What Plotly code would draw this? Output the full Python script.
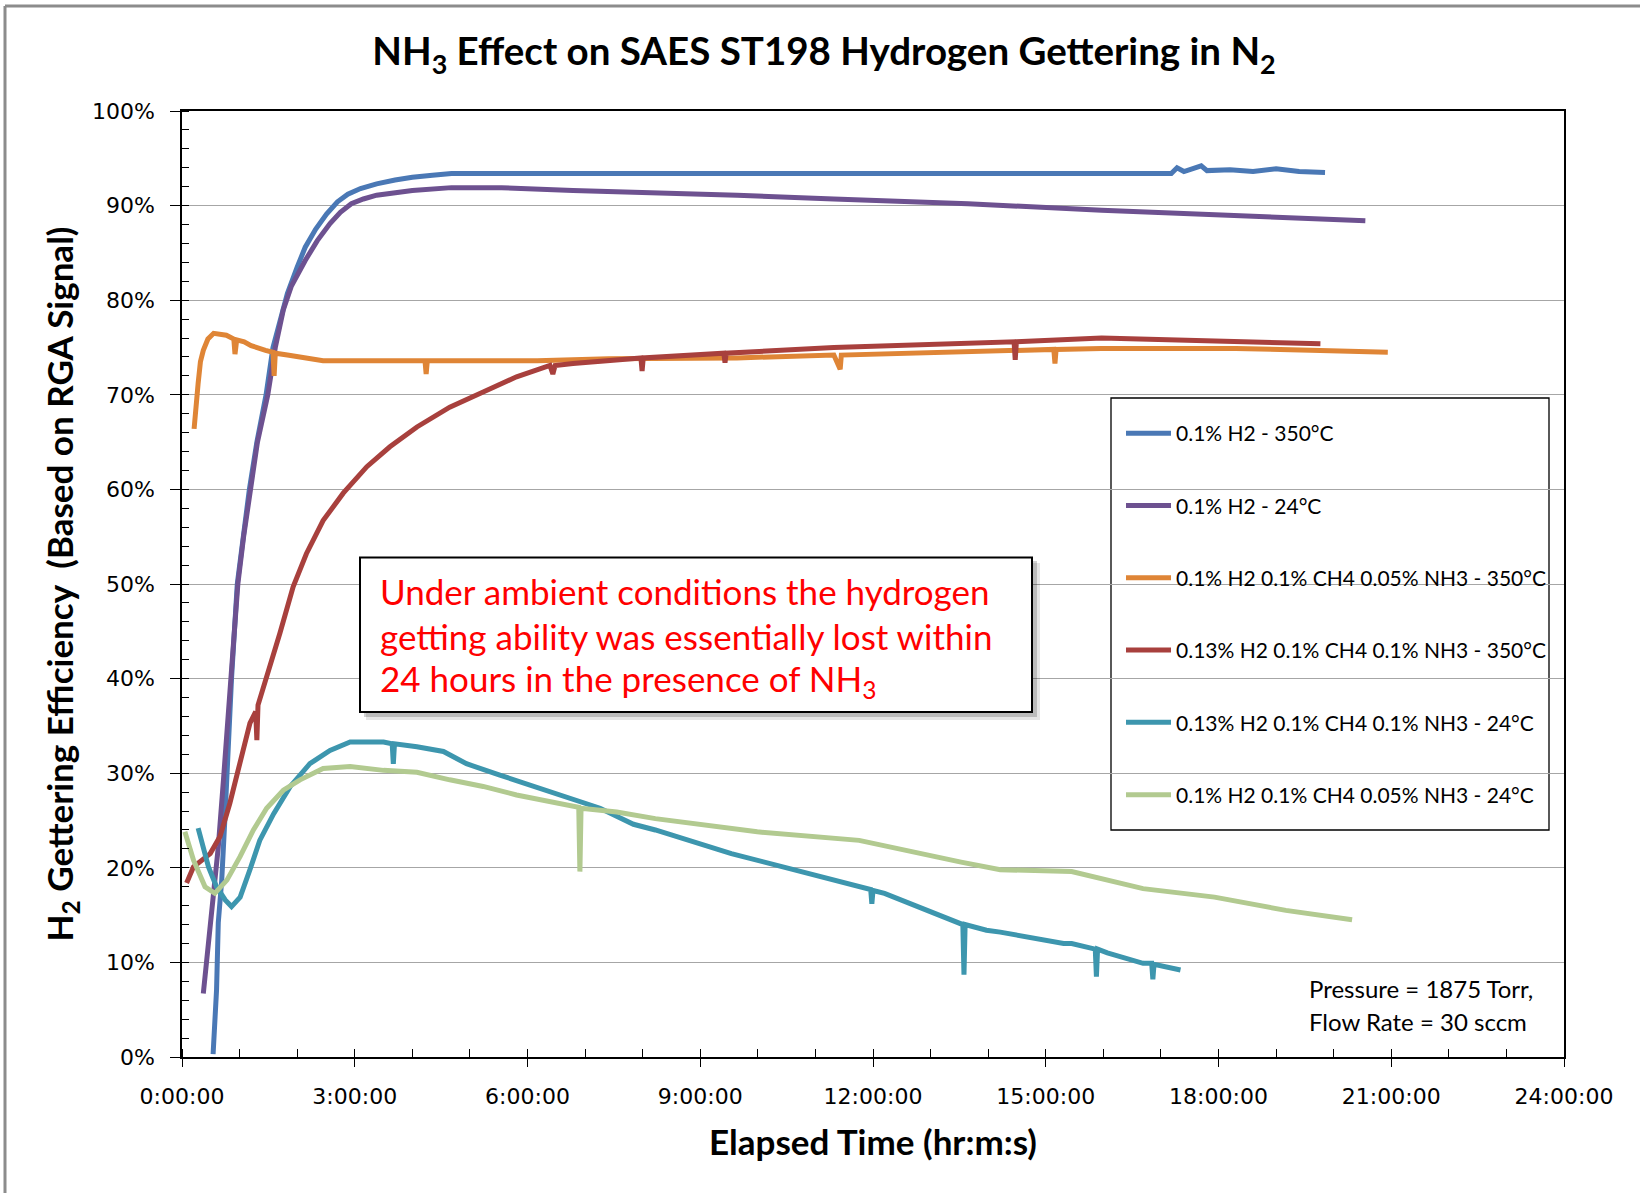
import plotly.graph_objects as go

# ---------------- data (hours, % efficiency) ----------------
series_names = [
    "0.1% H2 - 350°C",
    "0.1% H2 - 24°C",
    "0.1% H2 0.1% CH4 0.05% NH3 - 350°C",
    "0.13% H2 0.1% CH4 0.1% NH3 - 350°C",
    "0.13% H2 0.1% CH4 0.1% NH3 - 24°C",
    "0.1% H2 0.1% CH4 0.05% NH3 - 24°C",
]
series_colors = ["#4A78B5", "#6D5190", "#DF8536", "#A8403D", "#3D96AE", "#B2CA90"]

blue_h = [0.54, 0.60, 0.63, 0.69, 0.75, 0.83, 0.86, 0.96, 1.06, 1.17, 1.30, 1.46, 1.58, 1.70, 1.83, 2.00,
          2.14, 2.32, 2.51, 2.70, 2.88, 3.10, 3.38, 3.70, 4.00, 4.35, 4.68, 17.18, 17.28, 17.40, 17.70,
          17.80, 18.20, 18.60, 19.00, 19.40, 19.85]
blue_v = [0.3, 7.1, 14.2, 18.7, 25.8, 36.3, 40.0, 50.0, 55.0, 60.0, 65.0, 70.0, 75.0, 78.0, 80.7, 83.5,
          85.6, 87.5, 89.1, 90.4, 91.2, 91.8, 92.3, 92.7, 93.0, 93.2, 93.4, 93.4, 94.0, 93.6, 94.2,
          93.7, 93.8, 93.6, 93.9, 93.6, 93.5]

purple_h = [0.37, 0.46, 0.54, 0.63, 0.72, 0.80, 0.86, 0.97, 1.07, 1.18, 1.31, 1.49, 1.62, 1.76, 1.90,
            2.14, 2.35, 2.57, 2.75, 2.94, 3.15, 3.38, 3.70, 4.00, 4.68, 5.55, 6.79, 8.03, 9.00, 9.64,
            11.32, 13.65, 15.97, 18.30, 19.50, 20.55]
purple_v = [6.7, 12.4, 17.3, 22.2, 29.3, 36.3, 39.8, 50.0, 55.0, 60.0, 65.0, 70.0, 75.0, 79.0, 81.5,
            84.2, 86.3, 88.1, 89.3, 90.2, 90.7, 91.1, 91.4, 91.6, 91.9, 91.9, 91.6, 91.4, 91.25, 91.1,
            90.7, 90.2, 89.5, 89.0, 88.7, 88.4]

orange_h = [0.21, 0.24, 0.28, 0.32, 0.37, 0.45, 0.55, 0.77, 0.90, 0.92, 0.95, 1.08, 1.20, 1.45, 1.58,
            1.60, 1.62, 1.83, 2.10, 2.45, 3.00, 3.69, 4.22, 4.24, 4.26, 4.93, 6.17, 7.41, 8.65, 9.64,
            11.32, 11.43, 11.45, 13.65, 15.14, 15.16, 15.18, 15.97, 18.30, 19.60, 20.94]
orange_v = [66.4, 69.0, 71.2, 73.5, 74.7, 75.9, 76.5, 76.3, 75.9, 74.3, 75.8, 75.6, 75.2, 74.7, 74.5,
            72.0, 74.4, 74.2, 73.9, 73.6, 73.6, 73.6, 73.6, 72.2, 73.6, 73.6, 73.6, 73.8, 73.8, 73.9,
            74.2, 72.7, 74.2, 74.5, 74.8, 73.3, 74.8, 74.9, 74.9, 74.7, 74.5]

red_h = [0.08, 0.20, 0.49, 0.66, 0.83, 1.01, 1.18, 1.28, 1.30, 1.32, 1.44, 1.70, 1.93, 2.16, 2.45,
         2.80, 3.21, 3.61, 4.08, 4.65, 5.23, 5.81, 6.39, 6.44, 6.48, 6.79, 7.97, 7.99, 8.01, 9.00,
         9.41, 9.43, 9.45, 11.32, 13.65, 14.45, 14.47, 14.49, 15.97, 18.30, 19.77]
red_v = [18.4, 20.1, 21.5, 23.3, 26.8, 31.0, 35.3, 36.5, 33.5, 37.2, 39.5, 44.8, 49.7, 53.2, 56.7,
         59.6, 62.4, 64.5, 66.6, 68.7, 70.3, 71.9, 73.1, 72.2, 73.1, 73.3, 73.9, 72.5, 73.9, 74.3,
         74.4, 73.4, 74.4, 75.0, 75.5, 75.6, 73.7, 75.6, 76.0, 75.7, 75.4]

teal_h = [0.28, 0.37, 0.46, 0.60, 0.75, 0.86, 1.01, 1.18, 1.35, 1.59, 1.88, 2.22, 2.57, 2.92, 3.50,
          3.65, 3.67, 3.69, 4.08, 4.54, 4.94, 5.52, 6.10, 6.68, 7.26, 7.84, 8.22, 9.54, 10.87, 11.96,
          11.98, 12.00, 12.20, 13.09, 13.56, 13.58, 13.60, 13.97, 14.21, 15.31, 15.45, 15.86, 15.88,
          15.90, 16.07, 16.69, 16.84, 16.86, 16.88, 17.34]
teal_v = [24.2, 22.2, 20.1, 18.0, 16.6, 15.9, 16.9, 19.8, 22.9, 25.7, 28.6, 31.0, 32.4, 33.3, 33.3,
          33.1, 31.0, 33.1, 32.8, 32.3, 31.0, 29.8, 28.6, 27.5, 26.3, 24.6, 24.0, 21.5, 19.4, 17.7,
          16.2, 17.6, 17.3, 15.2, 14.0, 8.7, 14.0, 13.4, 13.2, 12.0, 12.0, 11.4, 8.5,
          11.4, 11.0, 9.9, 9.9, 8.2, 9.8, 9.2]

green_h = [0.05, 0.20, 0.40, 0.57, 0.78, 1.01, 1.24, 1.47, 1.76, 2.05, 2.45, 2.92, 3.50, 4.08, 4.65,
           5.23, 5.81, 6.39, 6.85, 6.89, 6.91, 6.93, 7.55, 8.22, 9.99, 11.76, 13.53, 14.21, 15.45,
           16.69, 17.93, 19.17, 20.32]
green_v = [23.8, 20.8, 18.0, 17.3, 18.7, 21.2, 24.0, 26.3, 28.2, 29.3, 30.5, 30.7, 30.3, 30.1, 29.3,
           28.6, 27.7, 27.0, 26.4, 26.4, 19.6, 26.3, 25.9, 25.2, 23.8, 22.9, 20.6, 19.8, 19.6,
           17.8, 16.9, 15.5, 14.5]

x_tick_vals = [0, 3, 6, 9, 12, 15, 18, 21, 24]
x_tick_text = ["0:00:00", "3:00:00", "6:00:00", "9:00:00", "12:00:00", "15:00:00",
               "18:00:00", "21:00:00", "24:00:00"]
y_tick_vals = [0, 10, 20, 30, 40, 50, 60, 70, 80, 90, 100]
y_tick_text = [f"{v}%" for v in y_tick_vals]

# ---------------- layout geometry ----------------
W, H = 1640, 1193
L, R, T, B = 182, 1564, 111, 1057


def px(x):
    return (x - L) / (R - L)


def py(y):
    return (B - y) / (B - T)


xs = [blue_h, purple_h, orange_h, red_h, teal_h, green_h]
ys = [blue_v, purple_v, orange_v, red_v, teal_v, green_v]

fig = go.Figure()
for i, (name, color, xh, yv) in enumerate(zip(series_names, series_colors, xs, ys)):
    fig.add_trace(go.Scatter(
        x=xh, y=yv, mode="lines", name=name, legendgroup=f"g{i}",
        line=dict(color=color, width=5),
    ))

font_main = "Lato, 'Open Sans', sans-serif"
tick_font = "'DejaVu Sans', Verdana, sans-serif"

shapes = [
    # outer frame
    dict(type="line", xref="paper", yref="paper", x0=px(5), x1=px(5), y0=py(6), y1=py(1200),
         line=dict(color="#8C8C8C", width=3)),
    dict(type="line", xref="paper", yref="paper", x0=px(5), x1=px(1645), y0=py(6), y1=py(6),
         line=dict(color="#8C8C8C", width=3)),
    # legend box
    dict(type="rect", xref="paper", yref="paper", x0=px(1111), x1=px(1549), y0=py(398), y1=py(830),
         line=dict(color="#000000", width=1.3), fillcolor="white", layer="below"),
    # annotation shadow
    dict(type="rect", xref="paper", yref="paper", x0=px(366), x1=px(1040), y0=py(563), y1=py(720),
         line=dict(width=0), fillcolor="rgba(0,0,0,0.10)"),
    dict(type="rect", xref="paper", yref="paper", x0=px(364), x1=px(1037), y0=py(561), y1=py(717),
         line=dict(width=0), fillcolor="rgba(0,0,0,0.18)"),
    # annotation box
    dict(type="rect", xref="paper", yref="paper", x0=px(360), x1=px(1032), y0=py(557.5), y1=py(712),
         line=dict(color="#000000", width=2), fillcolor="white"),
]

annotations = []
note_lines = ["Under ambient conditions the hydrogen",
              "getting ability was essentially lost within",
              "24 hours in the presence of NH<sub>3</sub>"]
for txt, yc in zip(note_lines, [591, 636, 680]):
    annotations.append(dict(xref="paper", yref="paper", x=px(378), y=py(yc), xanchor="left",
                            yanchor="middle", text=txt, showarrow=False,
                            font=dict(family=font_main, size=35, color="#FF0000")))
for txt, yc in zip(["Pressure = 1875 Torr,", "Flow Rate = 30 sccm"], [988, 1021]):
    annotations.append(dict(xref="paper", yref="paper", x=px(1307), y=py(yc), xanchor="left",
                            yanchor="middle", text=txt, showarrow=False,
                            font=dict(family=font_main, size=24, color="#000000")))

fig.update_layout(
    width=W, height=H,
    margin=dict(l=L, r=W - R, t=T, b=H - B, autoexpand=False),
    paper_bgcolor="white", plot_bgcolor="white",
    title=dict(text="NH<sub>3</sub> Effect on SAES ST198 Hydrogen Gettering in N<sub>2</sub>",
               xref="container", x=824 / W, xanchor="center", y=1 - 52 / H, yanchor="middle",
               font=dict(family=font_main, size=38.5, color="#000000", weight="bold")),
    showlegend=True,
    legend=dict(x=px(1121), y=py(413), xanchor="left", yanchor="top",
                bgcolor="rgba(0,0,0,0)", borderwidth=0,
                font=dict(family=font_main, size=21, color="#000000"),
                tracegroupgap=42, itemwidth=45, traceorder="grouped"),
    shapes=shapes,
    annotations=annotations,
)

fig.update_xaxes(
    range=[0, 24], tickvals=x_tick_vals, ticktext=x_tick_text,
    showgrid=False, zeroline=False,
    showline=True, linecolor="#000000", linewidth=1.5, mirror=True,
    ticks="outside", ticklen=8, tickcolor="#000000", tickwidth=1.2,
    ticklabelstandoff=11,
    minor=dict(dtick=1, tick0=0, ticks="inside", ticklen=8, tickcolor="#000000", tickwidth=1),
    tickfont=dict(family=tick_font, size=22, color="#000000"),
    title=dict(text="Elapsed Time (hr:m:s)", standoff=22,
               font=dict(family=font_main, size=35, color="#000000", weight="bold")),
)
fig.update_yaxes(
    range=[0, 100], tickvals=y_tick_vals, ticktext=y_tick_text,
    showgrid=True, gridcolor="#A6A6A6", gridwidth=1, zeroline=False,
    showline=True, linecolor="#000000", linewidth=1.5, mirror=True,
    ticks="outside", ticklen=10, tickcolor="#000000", tickwidth=1.2,
    ticklabelstandoff=11,
    minor=dict(dtick=2, tick0=0, ticks="inside", ticklen=7, tickcolor="#000000", tickwidth=1,
               showgrid=False),
    tickfont=dict(family=tick_font, size=22, color="#000000"),
    title=dict(text="H<sub>2</sub> Gettering Efficiency  (Based on RGA Signal)", standoff=8,
               font=dict(family=font_main, size=35, color="#000000", weight="bold")),
)

fig.write_html("out.html")
